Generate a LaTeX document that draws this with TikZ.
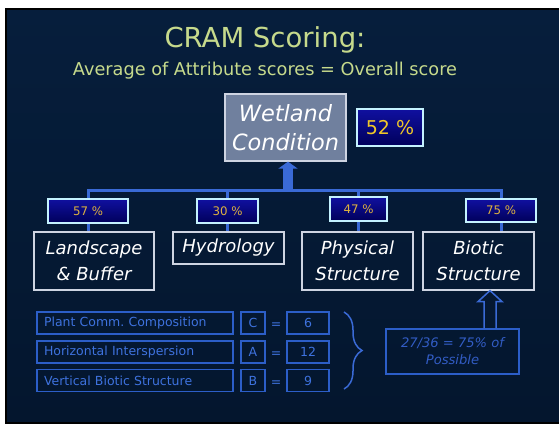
\documentclass[tikz,border=0pt]{standalone}
\usepackage{fontspec}
\setmainfont{DejaVu Sans}
\usetikzlibrary{arrows.meta,calc,backgrounds,decorations.pathreplacing}
\frenchspacing

\definecolor{slidetop}{RGB}{6,30,60}
\definecolor{slidemid}{RGB}{14,58,116}
\definecolor{slidebot}{RGB}{4,22,46}
\definecolor{titlegreen}{RGB}{198,218,140}
\definecolor{linkblue}{RGB}{58,106,214}
\definecolor{pctrim}{RGB}{196,242,255}
\definecolor{pctgold}{RGB}{222,178,64}
\definecolor{scoregold}{RGB}{240,200,40}
\definecolor{tableblue}{RGB}{44,94,200}
\definecolor{tabletext}{RGB}{62,114,222}
\definecolor{resulttext}{RGB}{50,92,196}
\definecolor{boxrim}{RGB}{206,212,226}
\definecolor{wetfill}{RGB}{112,128,158}

\tikzset{
  attrbox/.style={draw=boxrim, line width=1.2pt, text=white, align=center, inner sep=0pt,
    font=\fontsize{18}{26}\selectfont\itshape},
  pctbox/.style={draw=pctrim, line width=2pt, top color={rgb,255:red,16;green,16;blue,160},
    bottom color={rgb,255:red,0;green,0;blue,90}, text=pctgold, inner sep=0pt,
    minimum height=24pt, font=\fontsize{11.8}{13}\selectfont},
  tabbox/.style={draw=tableblue, line width=1.2pt, text=tabletext, inner sep=0pt,
    minimum height=22pt, font=\fontsize{12.5}{14}\selectfont},
  link/.style={draw=linkblue, line width=3pt},
}

\begin{document}
\begin{tikzpicture}[x=1pt, y=-1pt]
	\useasboundingbox (0,0) rectangle (559,424);
	
	% --- TITLE ---
	\node[anchor=base, text=titlegreen, font=\fontsize{27.5}{32}\selectfont] (title) at (265,47) {CRAM Scoring:};
	\node[anchor=base, text=titlegreen, font=\fontsize{17.7}{20}\selectfont] (subtitle) at (265,75) {Average of Attribute scores = Overall score};
	
	% --- OVERALL SCORE ---
	\node[draw=boxrim, line width=1.2pt, fill=wetfill, text=white, align=center, inner sep=0pt,
	      minimum width=121pt, minimum height=67pt, font=\fontsize{22.4}{29}\selectfont\itshape] (wet) at (285.5,127.5) {Wetland\\Condition};
	\node[pctbox, minimum width=66pt, minimum height=37pt, text=scoregold, font=\fontsize{19}{22}\selectfont] (score) at (390,127.5) {52 \%};
	
	% --- ATTRIBUTES ---
	\node[attrbox, minimum width=120pt, minimum height=58pt] (land) at (94,261) {Landscape\\\& Buffer};
	\node[attrbox, minimum width=111pt, minimum height=32pt] (hydro) at (228.5,248) {Hydrology};
	\node[attrbox, minimum width=111pt, minimum height=58pt] (phys) at (357.5,261) {Physical\\Structure};
	\node[attrbox, minimum width=111pt, minimum height=58pt] (biot) at (478.5,261) {Biotic\\Structure};
	
	\node[pctbox, minimum width=80pt] (p57) at (88,211) {57 \%};
	\node[pctbox, minimum width=61pt] (p30) at (227.5,211) {30 \%};
	\node[pctbox, minimum width=57pt] (p47) at (358.5,209) {47 \%};
	\node[pctbox, minimum width=70pt, minimum height=23pt] (p75) at (501,210.5) {75 \%};
	
	\coordinate (barL) at (88,190);
	\coordinate (barR) at (501,190);
	\coordinate (upfoot) at (288,190);
	\begin{scope}[on background layer]
		% slide
		\fill[white] (0,0) rectangle (559,424);
		\fill[black] (5,8) rectangle (559,424);
		\shade[top color=slidetop, middle color=slidemid, bottom color=slidebot] (7,10) rectangle (559,421);
		% tree
		\draw[link] (barL |- land.north) -- (barL) -- (barR) -- (barR |- biot.north);
		\draw[link] (p30 |- barL) -- (p30 |- hydro.north);
		\draw[link] (p47 |- barL) -- (p47 |- phys.north);
	\end{scope}
	\draw[draw=linkblue, line width=10pt, -{Triangle[width=19pt,length=7pt]}] (upfoot) -- (upfoot |- wet.south);
	
	% --- BIOTIC METRICS TABLE ---
	\foreach \name/\metric/\grade/\pts/\y in {m1/Plant Comm. Composition/C/6/323, m2/Horizontal Interspersion/A/12/352, m3/Vertical Biotic Structure/B/9/380.5} {
		\node[tabbox, minimum width=196pt, text width=182pt, align=left] (\name) at (135,\y) {\metric};
		\node[tabbox, minimum width=24pt] (\name grade) at (253,\y) {\grade};
		\node[text=tabletext, font=\fontsize{12.5}{14}\selectfont, inner sep=0pt] (\name eq) at (276,\y+3) {=};
		\node[tabbox, minimum width=42pt] (\name pts) at (308,\y) {\pts};
	}
	\coordinate (braceT) at (344,312);
	\coordinate (braceB) at (344,389);
	\draw[linkblue, line width=1.5pt, decorate, decoration={brace, amplitude=18pt}] (braceT) -- (braceB);
	
	% --- RESULT ---
	\node[draw=tableblue, line width=1.5pt, text=resulttext, align=center, inner sep=0pt,
	      minimum width=133pt, minimum height=45pt, font=\fontsize{13.1}{17}\selectfont\itshape] (res) at (452.5,351.5) {27/36 = 75\% of\\Possible};
	\path (res.north) ++(37.5,0) coordinate (hb);
	\path (biot.south) ++(11.5,0) coordinate (ht);
	\draw[linkblue, line width=1.5pt, line join=miter] ($(hb)+(-6,0)$) -- ($(ht)+(-6,11)$) -- ($(ht)+(-12,11)$) -- (ht)
		-- ($(ht)+(12,11)$) -- ($(ht)+(6,11)$) -- ($(hb)+(6,0)$);
	
\end{tikzpicture}
\end{document}
